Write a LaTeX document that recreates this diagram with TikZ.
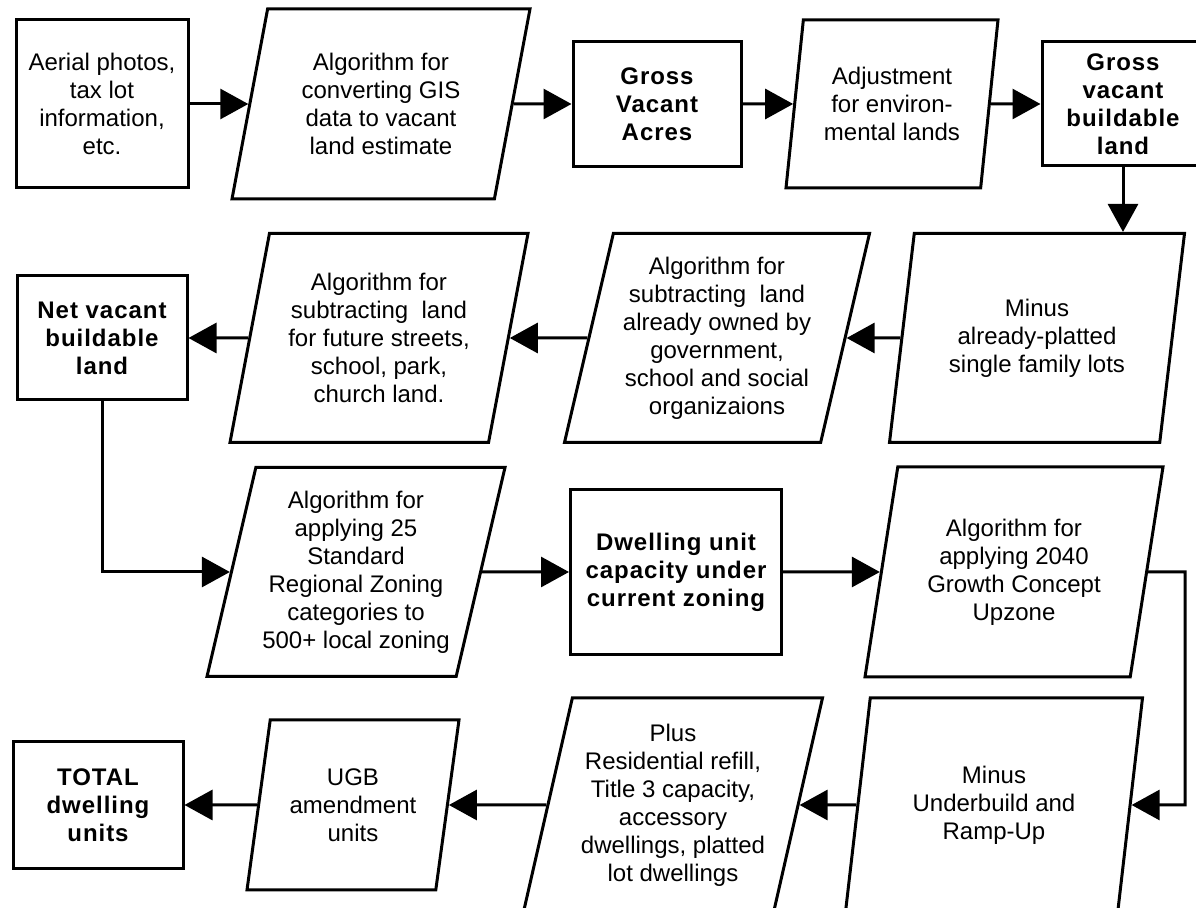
\documentclass[tikz,border=0pt]{standalone}
\usepackage{fontspec}
\setmainfont{Liberation Sans}
\newfontfamily\boldspaced[LetterSpace=4]{Liberation Sans}
\usetikzlibrary{arrows.meta,shapes.geometric}

\tikzset{
  box/.style={draw,line width=1.5pt,align=center,inner sep=2pt},
  boldbox/.style={box,font=\boldspaced\bfseries\fontsize{12}{14}\selectfont},
  para/.style={draw,line width=1.5pt,align=center,inner sep=2pt,trapezium,
    trapezium left angle=74,trapezium right angle=106,trapezium stretches body},
  flow/.style={line width=1.5pt,-{Triangle[length=14pt,width=15pt]}}
}

\begin{document}
\begin{tikzpicture}[x=0.5pt,y=-0.5pt,font=\fontsize{12}{14}\selectfont]
    \useasboundingbox (0,0) rectangle (1196,908);
    \clip (0,0) rectangle (1196,908);

    % 第一行
    \node[box,minimum width=86pt,minimum height=84pt] (aerial) at (102,104)
        {Aerial photos,\\tax lot\\information,\\etc.};
    \node[para,minimum width=149pt,minimum height=95pt,trapezium left angle=72,trapezium right angle=108] (gisalg) at (381,104)
        {Algorithm for\\converting GIS\\data to vacant\\land estimate};
    \node[boldbox,minimum width=84pt,minimum height=62.5pt] (grossacres) at (657,104)
        {Gross\\Vacant\\Acres};
    \node[para,minimum width=106pt,minimum height=84pt,trapezium left angle=78,trapezium right angle=102] (envadj) at (892,104)
        {Adjustment\\for environ-\\mental lands};
    \node[boldbox,minimum width=81pt,minimum height=62pt] (grossbuild) at (1123,104)
        {Gross\\vacant\\buildable\\land};

    % 第二行
    \node[para,minimum width=147.5pt,minimum height=104.5pt] (platted) at (1037,338)
        {Minus\\already-platted\\single family lots};
    \node[para,minimum width=152.5pt,minimum height=104.5pt] (govland) at (717,338)
        {Algorithm for\\subtracting\ \ land\\already owned by\\government,\\school and social\\organizaions};
    \node[para,minimum width=149pt,minimum height=104.5pt] (streets) at (379,338)
        {Algorithm for\\subtracting\ \ land\\for future streets,\\school, park,\\church land.};
    \node[boldbox,minimum width=85pt,minimum height=62pt] (netvacant) at (102,338)
        {Net vacant\\buildable\\land};

    % 第三行
    \node[para,minimum width=149pt,minimum height=104.5pt] (zoning25) at (356,572)
        {Algorithm for\\applying 25\\Standard\\Regional Zoning\\categories to\\500+ local zoning};
    \node[boldbox,minimum width=105.5pt,minimum height=82.5pt] (capacity) at (676,572)
        {Dwelling unit\\capacity under\\current zoning};
    \node[para,minimum width=149pt,minimum height=105pt] (upzone) at (1014,572)
        {Algorithm for\\applying 2040\\Growth Concept\\Upzone};
    \coordinate (turn) at (1185,572);

    % 第四行
    \node[para,minimum width=148.5pt,minimum height=107pt] (underbuild) at (994,805)
        {Minus\\Underbuild and\\Ramp-Up};
    \node[para,minimum width=149.5pt,minimum height=107pt] (refill) at (673,805)
        {Plus\\Residential refill,\\Title 3 capacity,\\accessory\\dwellings, platted\\lot dwellings};
    \node[para,minimum width=106pt,minimum height=85pt] (ugb) at (353,805)
        {UGB\\amendment\\units};
    \node[boldbox,minimum width=85pt,minimum height=63.5pt] (total) at (98,805)
        {TOTAL\\dwelling\\units};

    % 连线
    \draw[flow] (aerial.east) -- (aerial.east -| gisalg.west);
    \draw[flow] (gisalg.east) -- (grossacres.west);
    \draw[flow] (grossacres.east) -- (envadj.west);
    \draw[flow] (envadj.east) -- (grossbuild.west);
    \draw[flow] (grossbuild.south) -- (grossbuild.south |- platted.north);
    \draw[flow] (platted.west) -- (govland.east);
    \draw[flow] (govland.west) -- (streets.east);
    \draw[flow] (streets.west) -- (netvacant.east);
    \draw[flow] (netvacant.south) |- (zoning25.west);
    \draw[flow] (zoning25.east) -- (capacity.west);
    \draw[flow] (capacity.east) -- (upzone.west);
    \draw[flow] (upzone.east) -- (turn) |- (underbuild.east);
    \draw[flow] (underbuild.west) -- (refill.east);
    \draw[flow] (refill.west) -- (ugb.east);
    \draw[flow] (ugb.west) -- (total.east);

\end{tikzpicture}
\end{document}
